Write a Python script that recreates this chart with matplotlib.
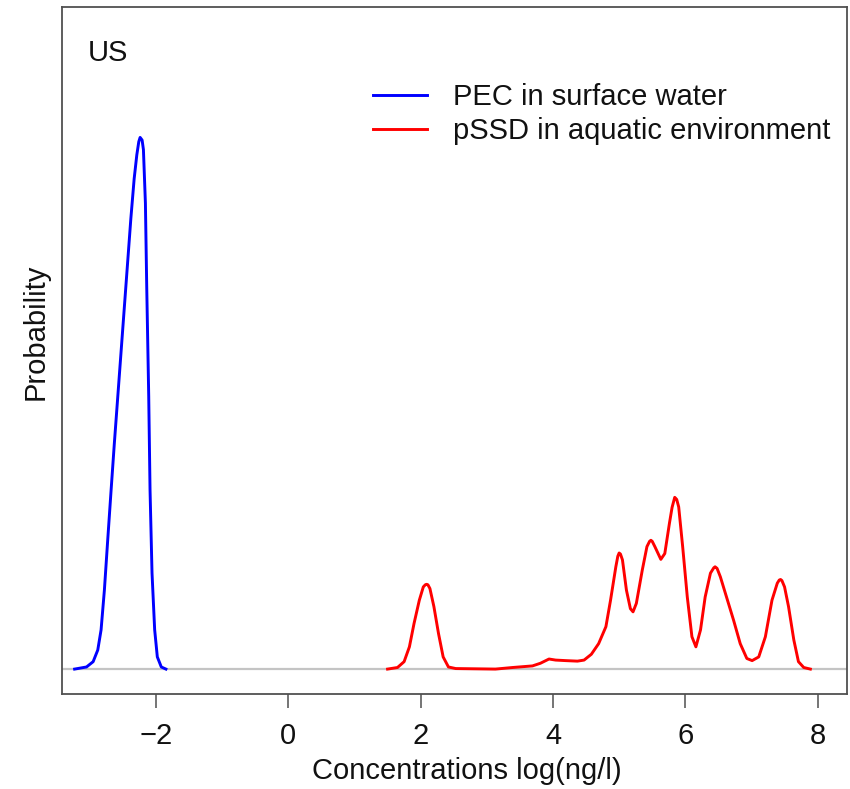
import matplotlib
matplotlib.use("Agg")
import matplotlib.pyplot as plt

plt.rcParams['font.family'] = ['Liberation Sans', 'DejaVu Sans']

# PEC in surface water (blue curve)
pec_x = [-3.23, -3.05, -2.95, -2.88, -2.83, -2.78, -2.73, -2.68, -2.63, -2.58,
         -2.53, -2.48, -2.43, -2.38, -2.33, -2.29, -2.26, -2.24, -2.21, -2.19,
         -2.16, -2.14, -2.11, -2.09, -2.06, -2.02, -1.98, -1.92, -1.85]
pec_y = [0, 0.004, 0.014, 0.036, 0.074, 0.149, 0.243, 0.335, 0.425, 0.510,
         0.595, 0.680, 0.765, 0.850, 0.925, 0.970, 0.995, 1.003, 0.998, 0.980,
         0.879, 0.721, 0.515, 0.338, 0.181, 0.074, 0.023, 0.004, 0]

# pSSD in aquatic environment (red curve)
pssd_x = [1.50, 1.65, 1.75, 1.83, 1.90, 1.98, 2.04, 2.07, 2.09, 2.11, 2.14, 2.20,
          2.27, 2.34, 2.42, 2.53, 3.13, 3.39, 3.69, 3.81, 3.94, 4.04, 4.19, 4.37,
          4.47, 4.58, 4.69, 4.80, 4.87, 4.95, 4.98, 5.00, 5.02, 5.05, 5.11, 5.17,
          5.21, 5.26, 5.35, 5.42, 5.46, 5.48, 5.50, 5.54, 5.63, 5.69, 5.76, 5.80,
          5.84, 5.87, 5.90, 5.96, 6.03, 6.10, 6.16, 6.23, 6.30, 6.38, 6.43, 6.45,
          6.48, 6.53, 6.63, 6.73, 6.83, 6.93, 7.01, 7.11, 7.21, 7.31, 7.39, 7.42,
          7.44, 7.46, 7.50, 7.56, 7.64, 7.71, 7.79, 7.89]
pssd_y = [0, 0.003, 0.014, 0.042, 0.086, 0.130, 0.155, 0.159, 0.160, 0.159, 0.152, 0.118,
          0.067, 0.023, 0.004, 0.001, 0.0, 0.003, 0.006, 0.011, 0.019, 0.017, 0.016, 0.015,
          0.017, 0.028, 0.048, 0.080, 0.130, 0.193, 0.213, 0.219, 0.217, 0.206, 0.149, 0.114,
          0.108, 0.124, 0.187, 0.231, 0.241, 0.243, 0.241, 0.231, 0.207, 0.218, 0.275, 0.305,
          0.324, 0.320, 0.306, 0.231, 0.136, 0.061, 0.042, 0.074, 0.136, 0.181, 0.191, 0.193,
          0.190, 0.174, 0.133, 0.092, 0.048, 0.020, 0.016, 0.023, 0.061, 0.130, 0.162, 0.168,
          0.169, 0.167, 0.155, 0.118, 0.055, 0.014, 0.003, 0]

xticks = [-2, 0, 2, 4, 6, 8]
labels = ["PEC in surface water", "pSSD in aquatic environment"]

fig = plt.figure(figsize=(8.5, 7.89), dpi=100)
ax = fig.add_axes([0.0726, 0.1204, 0.9242, 0.8707])

ax.axhline(0, color='#c4c4c4', lw=1.6, zorder=1)
ax.plot(pec_x, pec_y, color='#0000ff', lw=2.1, label=labels[0],
        solid_joinstyle='round', zorder=3)
ax.plot(pssd_x, pssd_y, color='#ff0000', lw=2.1, label=labels[1],
        solid_joinstyle='round', zorder=3)

ax.set_xlim(-3.425, 8.448)
ax.set_ylim(-0.047, 1.249)

ax.set_xticks(xticks)
ax.set_xticklabels(["\u22122", "0", "2", "4", "6", "8"])
ax.set_yticks([])
ax.tick_params(axis='x', length=10, width=1.1, color='#505050', pad=10,
               labelsize=21, labelcolor='#111111')
for s in ax.spines.values():
    s.set_color('#505050')
    s.set_linewidth(1.3)

ax.set_xlabel("Concentrations log(ng/l)", fontsize=21, color='#111111')
ax.xaxis.set_label_coords((467 - 61.7) / 785.6, -0.092)
ax.set_ylabel("Probability", fontsize=21, color='#111111')
ax.yaxis.set_label_coords(-0.016, 0.527)

ax.text(0.0335, 0.921, "US", transform=ax.transAxes, fontsize=21,
        ha='left', va='baseline', color='#111111')

ax.legend(loc='upper left', bbox_to_anchor=(373 / 850, 1 - 83 / 789),
          bbox_transform=fig.transFigure, frameon=False, fontsize=21,
          handlelength=1.85, handletextpad=0.89, labelspacing=0.22,
          borderpad=0, borderaxespad=0, labelcolor='#111111')

fig.savefig("out.png", dpi=100)
